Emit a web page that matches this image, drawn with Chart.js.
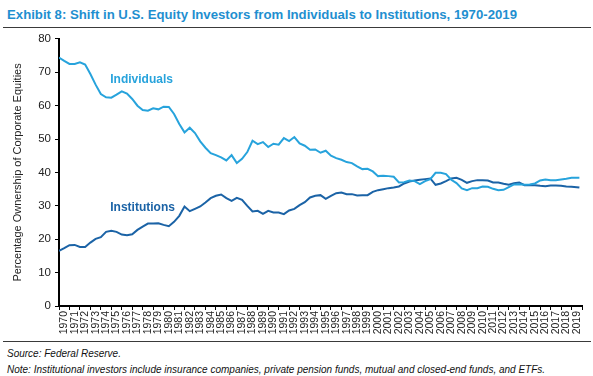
<!DOCTYPE html>
<html>
<head>
<meta charset="utf-8">
<script src="https://cdn.jsdelivr.net/npm/chart.js@4"></script>
<style>
  body { margin: 0; width: 593px; height: 376px; background: #fff; font-family: Arial, "Liberation Sans", sans-serif; position: relative; overflow: hidden; }
  #title { position: absolute; left: 7px; top: 7px; font-size: 13.2px; font-weight: bold; color: #1f8fd0; white-space: nowrap; }
  .rule { position: absolute; left: 3px; width: 588px; height: 0; border-top: 1.5px solid #3a3a3a; }
  #wrap { position: absolute; left: 0; top: 28px; width: 593px; height: 311px; }
  .note { position: absolute; left: 7px; font-size: 10px; font-style: italic; color: #111; white-space: nowrap; }
</style>
</head>
<body>
<div id="title">Exhibit 8: Shift in U.S. Equity Investors from Individuals to Institutions, 1970-2019</div>
<div class="rule" style="top:27px"></div>
<div id="wrap"><canvas id="chart"></canvas></div>
<div class="rule" style="top:341px"></div>
<div class="note" style="top:348px">Source: Federal Reserve.</div>
<div class="note" style="top:364px">Note: Institutional investors include insurance companies, private pension funds, mutual and closed-end funds, and ETFs.</div>
<script>
// year labels on the axis
const years = [];
for (let y = 1970; y <= 2019; y++) years.push(String(y));

const periods = Array.from({ length: 100 }, (_, i) => 1970 + i / 2).concat([2019.75]);

const individuals = [
  74.4, 73.4, 72.5, 72.5, 73.0, 72.3, 69.5, 66.3, 63.5, 62.5,
  62.4, 63.3, 64.3, 63.6, 62.0, 60.0, 58.7, 58.5, 59.2, 58.9,
  59.7, 59.6, 57.5, 54.5, 52.0, 53.4, 51.8, 49.3, 47.4, 45.8,
  45.2, 44.5, 43.6, 45.2, 42.8, 44.1, 46.1, 49.5, 48.5, 49.1,
  47.6, 48.6, 48.3, 50.3, 49.4, 50.6, 48.7, 48.0, 46.8, 46.9,
  45.9, 46.5, 45.0, 44.3, 43.8, 43.1, 42.8, 41.8, 41.0, 41.1,
  40.3, 38.9, 39.0, 38.9, 38.7, 37.0, 37.1, 37.6, 37.4, 36.5,
  37.4, 38.0, 39.9, 39.9, 39.5, 37.8, 36.8, 35.2, 34.7, 35.3,
  35.3, 35.8, 35.7, 35.1, 34.7, 34.8, 35.6, 36.4, 36.5, 36.3,
  36.4, 36.7, 37.6, 37.9, 37.7, 37.7, 37.9, 38.1, 38.4, 38.4,
  38.4
];

const institutions = [
  16.5, 17.3, 18.2, 18.3, 17.7, 17.7, 19.0, 20.1, 20.6, 22.2,
  22.5, 22.2, 21.4, 21.2, 21.5, 22.8, 23.8, 24.7, 24.7, 24.8,
  24.3, 23.9, 25.2, 27.0, 29.8, 28.4, 29.1, 29.8, 31.0, 32.3,
  33.0, 33.4, 32.3, 31.5, 32.4, 31.8, 30.0, 28.3, 28.5, 27.6,
  28.5, 28.0, 28.0, 27.5, 28.6, 29.1, 30.2, 31.1, 32.5, 33.0,
  33.2, 32.1, 33.0, 33.8, 34.0, 33.5, 33.5, 33.1, 33.2, 33.2,
  34.2, 34.7, 35.0, 35.3, 35.5, 35.8, 36.7, 37.3, 37.6, 37.8,
  38.0, 38.2, 36.3, 36.7, 37.4, 38.2, 38.4, 37.8, 36.9, 37.4,
  37.7, 37.7, 37.6, 37.0, 37.0, 36.6, 36.3, 36.8, 37.0, 36.2,
  36.2, 36.2, 36.0, 35.9, 36.1, 36.1, 36.0, 35.8, 35.7, 35.6,
  35.5
];

const lightBlue = '#27a3dc';
const darkBlue = '#1b63a6';

// inline series names, placed in data coordinates
const seriesLabels = [
  { text: 'Individuals', x: 1974.9, y: 67.7, color: lightBlue },
  { text: 'Institutions', x: 1974.9, y: 29.3, color: darkBlue }
];

const labelPlugin = {
  id: 'seriesLabels',
  afterDatasetsDraw(chart) {
    const ctx = chart.ctx;
    const xs = chart.scales.xq, ys = chart.scales.y;
    ctx.save();
    ctx.font = 'bold 12px Arial';
    ctx.textAlign = 'left';
    ctx.textBaseline = 'middle';
    seriesLabels.forEach(l => {
      ctx.fillStyle = l.color;
      ctx.fillText(l.text, xs.getPixelForValue(l.x), ys.getPixelForValue(l.y));
    });
    ctx.restore();
  }
};

function toPoints(values) {
  return values.map((v, i) => ({ x: periods[i], y: v }));
}

new Chart(document.getElementById('chart'), {
  type: 'line',
  data: {
    datasets: [
      { label: 'Individuals', data: toPoints(individuals), borderColor: lightBlue, borderWidth: 2, pointRadius: 0, tension: 0, xAxisID: 'xq', yAxisID: 'y' },
      { label: 'Institutions', data: toPoints(institutions), borderColor: darkBlue, borderWidth: 2, pointRadius: 0, tension: 0, xAxisID: 'xq', yAxisID: 'y' }
    ]
  },
  options: {
    responsive: true,
    maintainAspectRatio: false,
    animation: false,
    layout: { padding: { top: 6, right: 11, left: 11, bottom: 0 } },
    plugins: { legend: { display: false }, tooltip: { enabled: false } },
    scales: {
      x: {
        type: 'category',
        labels: years,
        offset: true,
        position: 'bottom',
        grid: { offset: true, drawOnChartArea: false, tickLength: 4, color: '#000', lineWidth: 1 },
        border: { color: '#000', width: 2 },
        ticks: { autoSkip: false, minRotation: 90, maxRotation: 90, padding: 1, color: '#222', font: { family: 'Arial', size: 10.5 } },
        afterFit: s => { s.height = 33; }
      },
      xq: { type: 'linear', display: false, min: 1970, max: 2020 },
      y: {
        min: 0,
        max: 80,
        ticks: { stepSize: 10, color: '#222', padding: 4, font: { family: 'Arial', size: 11.5 } },
        grid: { drawOnChartArea: false, tickLength: 4, color: '#000' },
        border: { color: '#000', width: 2 },
        title: { display: true, text: 'Percentage Ownership of Corporate Equities', color: '#222', font: { family: 'Arial', size: 11 }, padding: { top: 0, bottom: 2 } },
        afterFit: s => { s.width = 48; }
      }
    }
  },
  plugins: [labelPlugin]
});
</script>
</body>
</html>
